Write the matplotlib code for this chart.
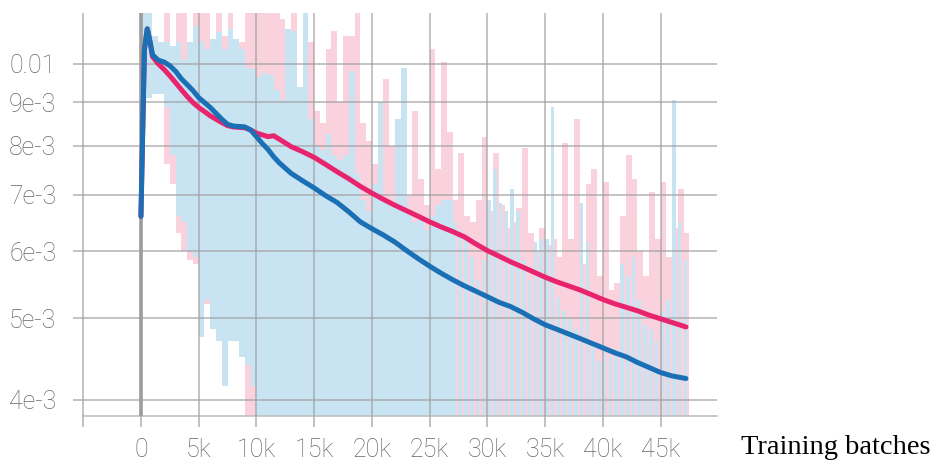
import matplotlib
matplotlib.use("Agg")
import matplotlib.pyplot as plt
import numpy as np
from matplotlib.ticker import FixedLocator, NullLocator

# all loss values are in units of 1e-3
# smoothed curves
smooth_steps = [0, 300, 550, 800, 1000, 1500, 2000, 2500, 3000, 3500, 4000, 4500, 5000,
                6000, 7000, 7500, 8000, 8500, 9000, 9500, 10000, 10500, 11000, 11500, 12000,
                13000, 14000, 15000, 16000, 17000, 18000, 19000, 20000, 21000, 22000, 23000,
                24000, 25000, 26000, 27000, 28000, 29000, 30000, 31000, 32000, 33000, 34000,
                35000, 36000, 37000, 38000, 39000, 40000, 41000, 42000, 43000, 44000, 45000,
                46000, 47200]
blue_smooth = [6.6, 10.4, 11.0, 10.6, 10.25, 10.1, 10.05, 9.95, 9.8, 9.6, 9.45, 9.3, 9.12,
               8.88, 8.6, 8.48, 8.44, 8.43, 8.42, 8.35, 8.2, 8.05, 7.92, 7.76, 7.63,
               7.42, 7.27, 7.13, 6.98, 6.85, 6.68, 6.5, 6.38, 6.27, 6.15, 6.01,
               5.88, 5.76, 5.65, 5.55, 5.46, 5.38, 5.3, 5.22, 5.16, 5.08, 4.99,
               4.91, 4.85, 4.79, 4.73, 4.67, 4.61, 4.55, 4.5, 4.43, 4.37, 4.31,
               4.27, 4.24]
pink_smooth = [6.6, 10.4, 11.0, 10.6, 10.2, 10.0, 9.85, 9.68, 9.5, 9.32, 9.15, 9.0, 8.88,
               8.68, 8.52, 8.45, 8.42, 8.41, 8.4, 8.35, 8.28, 8.24, 8.2, 8.22, 8.14,
               7.98, 7.87, 7.75, 7.6, 7.45, 7.31, 7.16, 7.03, 6.91, 6.8, 6.7,
               6.6, 6.5, 6.41, 6.33, 6.24, 6.12, 6.01, 5.92, 5.83, 5.75, 5.67,
               5.59, 5.52, 5.46, 5.4, 5.33, 5.26, 5.2, 5.15, 5.1, 5.04, 4.99,
               4.94, 4.88]

# raw values: min / max per 500-step bin
raw_bin = 500
blue_hi = [12, 12, 10.8, 10.6, 10.6, 10.5, 10.6, 10.1, 10.6, 11.1, 10.6, 10.4, 10.7, 10.9, 10.4,
           11.0, 10.7, 10.4, 9.9, 9.85, 9.65, 9.75, 9.7, 9.3, 9.05, 11.0, 10.95, 9.4, 12, 8.6,
           8.0, 7.9, 8.25, 7.8, 7.7, 7.8, 9.8, 7.4, 6.9, 6.7, 7.2, 9.0, 6.9, 6.8, 8.6,
           9.9, 6.7, 6.5, 6.6, 6.35, 6.6, 6.8, 6.9, 6.9, 6.5, 6.35, 6.2, 5.9, 5.55, 5.85,
           6.9, 7.5, 6.85, 6.7, 7.1, 6.7, 5.85, 5.55, 6.15, 6.2, 6.2, 8.9, 5.3, 5.1, 5.0,
           4.85, 6.85, 6.15, 4.7, 4.45, 4.65, 4.5, 4.6, 5.8, 5.6, 5.9, 5.25, 4.9, 4.85, 4.7,
           5.1, 5.25, 9.05, 6.5, 5.85]
blue_lo = [9.1, 9.1, 9.2, 9.2, 8.9, 7.8, 6.6, 6.5, 6.0, 5.9, 4.75, 5.25, 4.85, 4.7, 4.15,
           4.7, 4.7, 4.5, 4.4, 4.15] + [3.5] * 75
pink_hi = [11.0, 11.0, 10.7, 10.5, 12, 10.4, 12, 12, 10.5, 12, 12, 12, 10.6, 12, 10.8,
           12, 10.5, 10.6, 12, 12, 12, 11.5, 12, 12, 11.3, 9.5, 12, 9.0, 9.2, 10.6,
           8.8, 8.5, 10.4, 10.95, 9.0, 10.8, 10.8, 12, 8.5, 8.1, 7.6, 8.4, 9.6, 8.0, 8.6,
           7.4, 7.0, 8.8, 7.3, 6.8, 10.4, 7.5, 10.05, 8.3, 6.9, 7.85, 6.6, 6.5, 6.9, 8.2,
           6.7, 7.85, 6.8, 6.4, 6.5, 6.75, 7.95, 6.3, 6.0, 6.4, 6.1, 6.2, 5.9, 8.05, 6.2,
           8.6, 5.8, 7.2, 7.5, 5.6, 7.25, 5.4, 5.5, 6.6, 7.8, 7.3, 6.0, 5.6, 7.05, 6.2,
           7.25, 5.9, 6.4, 7.1, 6.3]
pink_lo = [9.2, 9.2, 9.3, 9.2, 7.6, 7.2, 6.3, 6.0, 5.85, 5.8, 5.3, 5.2, 5.4, 5.0, 4.9,
           4.8, 4.7, 4.6] + [3.5] * 77

xticks = [-5000, 0, 5000, 10000, 15000, 20000, 25000, 30000, 35000, 40000, 45000]
xlabels = ["", "0", "5k", "10k", "15k", "20k", "25k", "30k", "35k", "40k", "45k"]
yticks = [4, 5, 6, 7, 8, 9, 10]
ylabels = ["4e-3", "5e-3", "6e-3", "7e-3", "8e-3", "9e-3", "0.01"]

BLUE = "#1a6fb5"
PINK = "#e8246e"
BLUE_RAW = "#c8e3f1"
PINK_RAW = "#f9d2de"

scale = 1e-3
edges = np.arange(len(blue_hi)) * raw_bin
# later in the run the two raw traces interleave more, so let the pink one show through
blue_w = np.where(edges < 27000, raw_bin, raw_bin * 0.62)

fig = plt.figure(figsize=(9.35, 4.61), dpi=100)
ax = fig.add_axes([0.078, 0.098, 0.689, 0.874])
ax.set_yscale("log")

ax.bar(edges, (np.array(pink_hi) - np.array(pink_lo)) * scale, bottom=np.array(pink_lo) * scale,
       width=raw_bin, align="edge", color=PINK_RAW, linewidth=0, zorder=1)
ax.bar(edges, (np.array(blue_hi) - np.array(blue_lo)) * scale, bottom=np.array(blue_lo) * scale,
       width=blue_w, align="edge", color=BLUE_RAW, linewidth=0, zorder=1.1)

ax.axvline(0, color="#9c9c9c", lw=2.6, zorder=2.6)
ax.plot(smooth_steps, np.array(pink_smooth) * scale, color=PINK, lw=3.6, zorder=3,
        solid_capstyle="round")
ax.plot(smooth_steps, np.array(blue_smooth) * scale, color=BLUE, lw=3.6, zorder=3.1,
        solid_capstyle="round")

ax.set_xlim(-5890, 49900)
ax.set_ylim(3.83e-3, 11.49e-3)

ax.xaxis.set_major_locator(FixedLocator(xticks))
ax.set_xticklabels(xlabels)
ax.yaxis.set_major_locator(FixedLocator([v * scale for v in yticks]))
ax.yaxis.set_minor_locator(NullLocator())
ax.set_yticklabels(ylabels)

ax.set_axisbelow(False)
ax.grid(True, color="#a0a0a0", lw=1.1, alpha=0.8)
for s in ["top", "right", "left"]:
    ax.spines[s].set_visible(False)
ax.spines["bottom"].set_color("#c0c0c0")
ax.spines["bottom"].set_linewidth(1.2)
ax.spines["bottom"].set_bounds(-5000, 49900)

ax.tick_params(axis="x", length=8, width=1.1, color="#b0b0b0", pad=8,
               labelsize=18, labelcolor="#666666")
ax.tick_params(axis="y", length=0, pad=12, labelsize=18, labelcolor="#666666")
for lab in ax.get_xticklabels() + ax.get_yticklabels():
    lab.set_fontfamily("Roboto")
    lab.set_fontweight("light")

fig.text(0.792, 0.015, "Training batches", family="Liberation Serif", fontsize=20.5,
         color="black", ha="left", va="baseline")

fig.savefig("out.png", dpi=100)
